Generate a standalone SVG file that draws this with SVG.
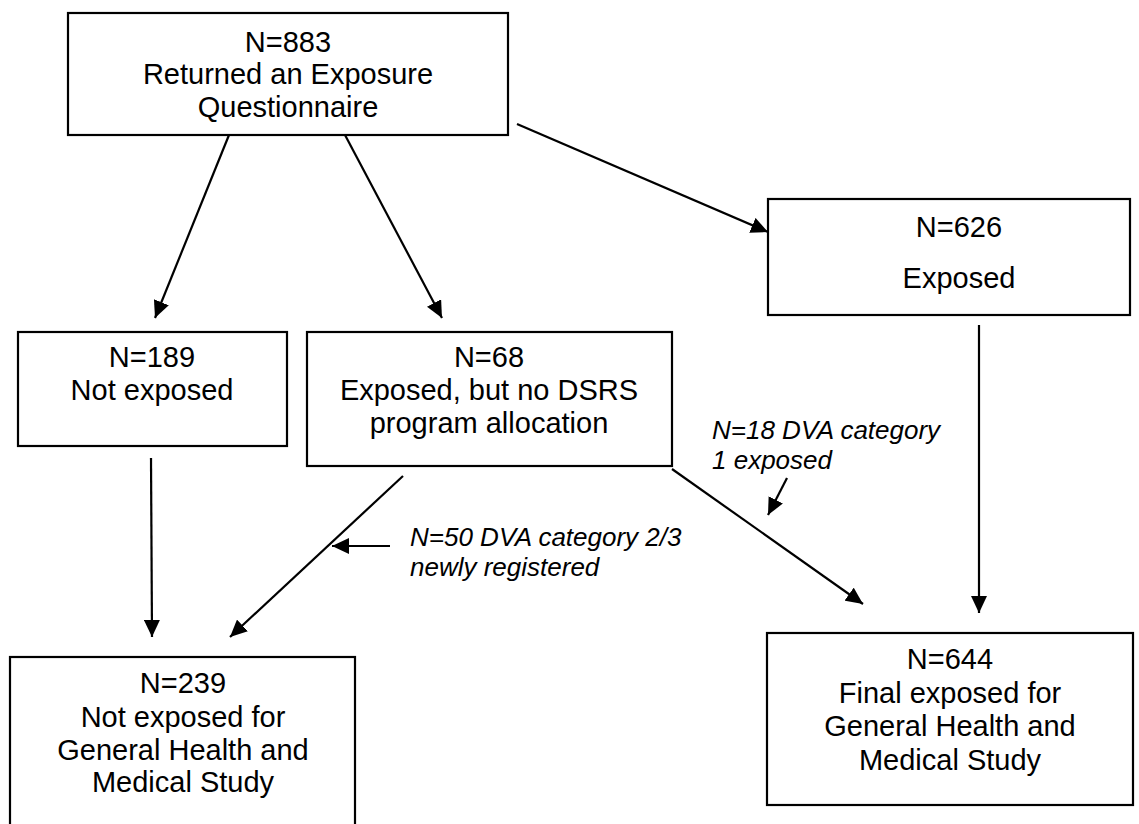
<svg xmlns="http://www.w3.org/2000/svg" width="1139" height="824" viewBox="0 0 1139 824">
<style>
.box{fill:#fff;stroke:#000;stroke-width:2.2}
.t{font-family:"Liberation Sans",Arial,sans-serif;font-size:29px;fill:#000;text-anchor:middle}
.it{font-family:"Liberation Sans",Arial,sans-serif;font-size:26px;font-style:italic;fill:#000}
.c{stroke:#000;stroke-width:2.2;fill:none;marker-end:url(#ah)}
</style>
<defs>
<marker id="ah" markerUnits="userSpaceOnUse" markerWidth="18" markerHeight="16" refX="17" refY="8" orient="auto">
<path d="M0,0 L17,8 L0,16 z" fill="#000"/>
</marker>
</defs>
<rect width="1139" height="824" fill="#fff"/>
<g id="n883">
<rect class="box" x="68" y="13" width="440" height="122"/>
<text class="t" x="288" y="52">N=883</text>
<text class="t" x="288" y="84">Returned an Exposure</text>
<text class="t" x="288" y="117">Questionnaire</text>
</g>
<g id="n626">
<rect class="box" x="768" y="199" width="362" height="116"/>
<text class="t" x="959" y="237">N=626</text>
<text class="t" x="959" y="288">Exposed</text>
</g>
<g id="n189">
<rect class="box" x="18" y="332" width="269" height="114"/>
<text class="t" x="152" y="367">N=189</text>
<text class="t" x="152" y="400">Not exposed</text>
</g>
<g id="n68">
<rect class="box" x="307" y="332" width="365" height="134"/>
<text class="t" x="489" y="367">N=68</text>
<text class="t" x="489" y="400">Exposed, but no DSRS</text>
<text class="t" x="489" y="433">program allocation</text>
</g>
<g id="n239">
<rect class="box" x="10" y="657" width="345" height="172"/>
<text class="t" x="183" y="693">N=239</text>
<text class="t" x="183" y="727">Not exposed for</text>
<text class="t" x="183" y="760">General Health and</text>
<text class="t" x="183" y="792">Medical Study</text>
</g>
<g id="n644">
<rect class="box" x="767" y="633" width="366" height="172"/>
<text class="t" x="950" y="669">N=644</text>
<text class="t" x="950" y="703">Final exposed for</text>
<text class="t" x="950" y="736">General Health and</text>
<text class="t" x="950" y="770">Medical Study</text>
</g>
<g id="labels">
<text class="it" x="410" y="546">N=50 DVA category 2/3</text>
<text class="it" x="410" y="576">newly registered</text>
<text class="it" x="712" y="439">N=18 DVA category</text>
<text class="it" x="712" y="469">1 exposed</text>
</g>
<g id="connectors">
<line class="c" x1="229" y1="135" x2="155" y2="318"/>
<line class="c" x1="345" y1="135" x2="442" y2="318"/>
<line class="c" x1="517" y1="124" x2="768" y2="232"/>
<line class="c" x1="979" y1="325" x2="979" y2="613"/>
<line class="c" x1="151" y1="458" x2="152" y2="637"/>
<line class="c" x1="403" y1="476" x2="230" y2="637"/>
<line class="c" x1="390" y1="546" x2="332" y2="546"/>
<line class="c" x1="672" y1="469" x2="863" y2="604"/>
<line class="c" x1="787" y1="478" x2="768" y2="515"/>
</g>
</svg>
